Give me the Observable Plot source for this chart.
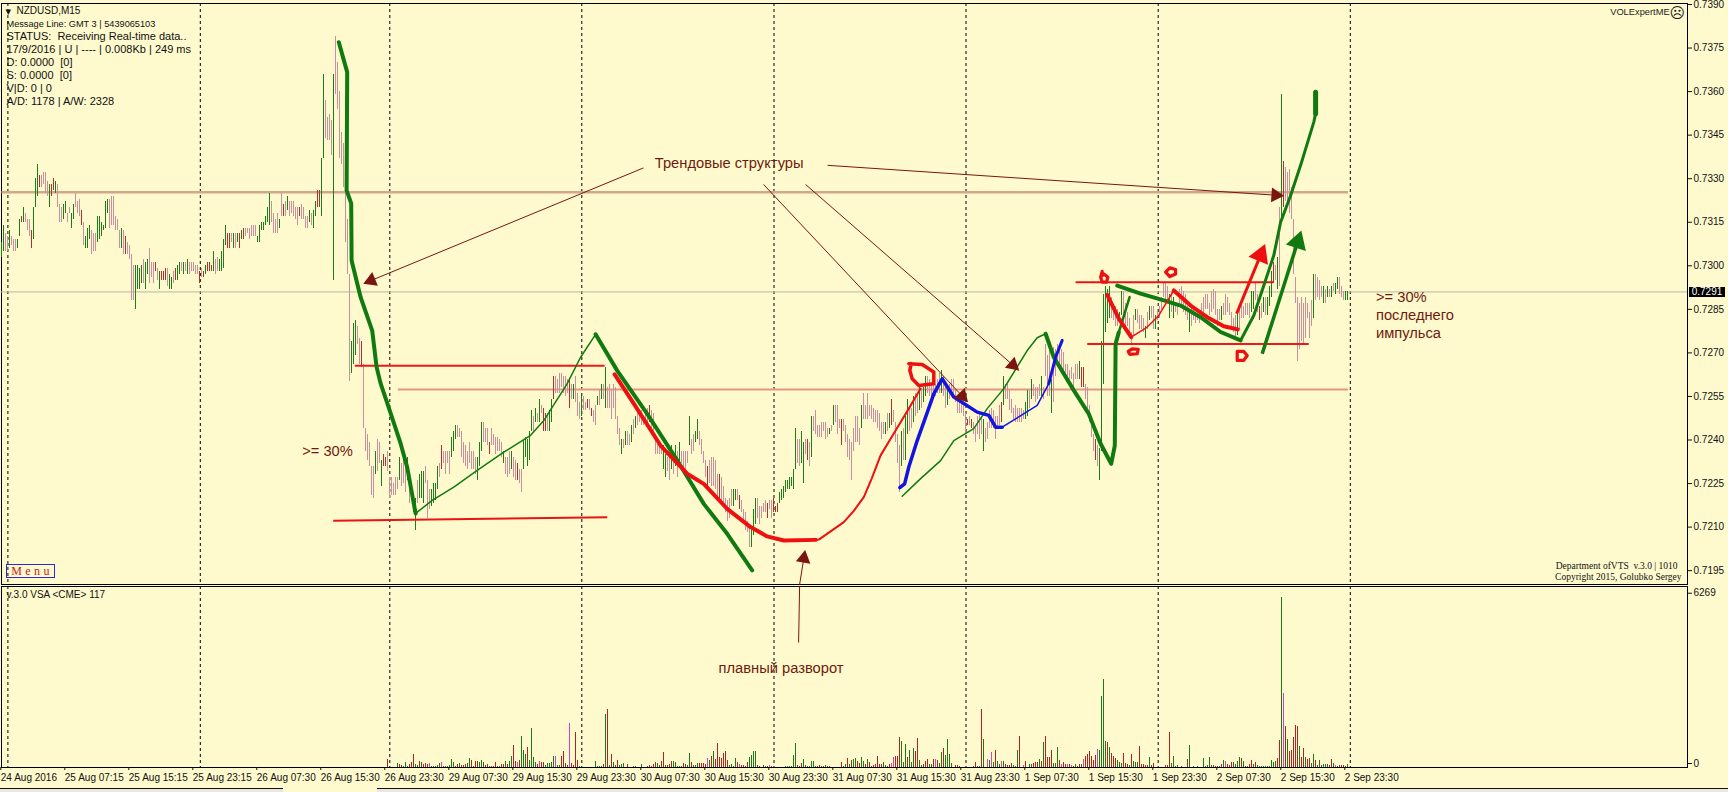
<!DOCTYPE html>
<html><head><meta charset="utf-8">
<script src="https://cdn.jsdelivr.net/npm/d3@7"></script>
<script src="https://cdn.jsdelivr.net/npm/@observablehq/plot@0.6"></script>
<style>
html,body{margin:0;padding:0;background:#FEFACD;}
#page{position:relative;width:1728px;height:792px;overflow:hidden;background:#FEFACD;}
#page svg{display:block;}
#foot{position:absolute;left:0;right:0;top:788px;height:4px;background:#e8e8e0;border-top:1px solid #111;}
#tab{position:absolute;left:283px;top:787px;width:94px;height:5px;background:#FEFACD;}
#tag{position:absolute;left:1689px;top:287px;width:36px;height:10px;background:#000;color:#fff;font:10px/10px "Liberation Sans";text-align:center;}
#menu{position:absolute;left:6px;top:564px;width:47px;height:12px;border:1px solid #2a2ad0;color:#c8202a;font:12px/12px "Liberation Serif";letter-spacing:3.4px;text-align:center;text-indent:3px;}
</style></head><body><div id="page"></div>
<script>
// price values are in pips (0.7291 = 7291); bar index = one M15 bar
const barHigh=[
7308,7314,7311,7310,7312,7310,7309,7309,7309,7316,
7317,7320,7318,7316,7316,7312,7320,7330,7335,7331,
7331,7332,7332,7329,7328,7328,7330,7329,7328,7321,
7320,7321,7322,7318,7320,7318,7321,7325,7322,7323,
7319,7315,7310,7313,7314,7312,7311,7311,7317,7317,
7315,7314,7322,7323,7323,7324,7324,7317,7316,7312,
7313,7312,7310,7308,7307,7304,7300,7300,7300,7299,
7300,7302,7301,7302,7306,7301,7301,7301,7299,7298,
7298,7298,7299,7299,7297,7296,7298,7299,7300,7301,
7301,7301,7301,7302,7301,7301,7301,7300,7300,7298,
7299,7298,7300,7301,7301,7300,7305,7302,7303,7302,
7305,7309,7314,7311,7311,7311,7311,7311,7311,7311,
7312,7313,7313,7313,7313,7314,7314,7314,7310,7314,
7315,7315,7317,7320,7325,7322,7318,7316,7318,7316,
7325,7321,7322,7324,7322,7322,7322,7320,7320,7320,
7321,7320,7317,7317,7319,7318,7319,7322,7326,7326,
7337,7366,7357,7351,7352,7350,7366,7379,7370,7360,
7346,7342,7329,7316,7297,7274,7280,7281,7279,7275,
7274,7266,7244,7242,7239,7231,7231,7236,7240,7239,
7233,7235,7234,7236,7227,7227,7225,7227,7227,7234,
7232,7233,7231,7234,7226,7224,7221,7220,7226,7228,
7229,7229,7231,7226,7223,7223,7225,7225,7231,7232,
7238,7236,7236,7236,7236,7241,7243,7245,7245,7244,
7243,7239,7238,7236,7239,7236,7236,7234,7234,7239,
7246,7246,7244,7244,7239,7244,7242,7241,7241,7240,
7239,7236,7234,7234,7236,7236,7234,7233,7232,7230,
7230,7240,7241,7240,7243,7250,7248,7251,7249,7254,
7252,7251,7249,7249,7250,7254,7262,7262,7261,7263,
7263,7262,7262,7261,7261,7259,7259,7262,7256,7253,
7255,7255,7253,7254,7254,7251,7250,7252,7255,7257,
7259,7259,7265,7258,7259,7257,7259,7258,7248,7244,
7240,7240,7243,7243,7242,7245,7247,7248,7249,7250,
7250,7248,7249,7251,7252,7250,7249,7242,7240,7238,
7238,7238,7235,7234,7234,7238,7234,7238,7236,7239,
7236,7236,7236,7236,7248,7240,7242,7243,7247,7243,
7240,7236,7233,7231,7233,7234,7234,7233,7228,7228,
7227,7224,7220,7219,7220,7223,7223,7223,7223,7221,
7219,7216,7215,7212,7211,7209,7216,7220,7220,7217,
7217,7218,7219,7218,7219,7219,7220,7217,7218,7222,
7223,7224,7226,7226,7227,7227,7230,7244,7240,7240,
7243,7239,7240,7240,7239,7248,7248,7250,7245,7245,
7246,7246,7246,7244,7244,7245,7252,7252,7252,7247,
7247,7247,7245,7242,7240,7239,7244,7248,7248,7244,
7252,7256,7252,7256,7252,7252,7251,7250,7250,7249,
7246,7246,7246,7249,7249,7254,7250,7246,7242,7238,
7243,7244,7248,7254,7251,7251,7255,7256,7256,7258,
7257,7258,7262,7262,7261,7259,7261,7259,7261,7263,
7264,7262,7259,7258,7259,7261,7261,7257,7255,7255,
7254,7253,7249,7247,7248,7247,7246,7244,7248,7249,
7248,7247,7244,7246,7250,7251,7250,7248,7248,7252,
7253,7262,7259,7259,7257,7254,7251,7252,7251,7251,
7251,7250,7253,7257,7257,7261,7259,7258,7258,7259,
7262,7258,7273,7269,7271,7261,7272,7271,7273,7272,
7271,7270,7266,7266,7264,7265,7263,7266,7266,7267,
7265,7265,7259,7258,7252,7247,7242,7240,7238,7237,
7274,7290,7293,7292,7293,7289,7286,7286,7285,7284,
7291,7291,7287,7284,7282,7277,7283,7285,7285,7283,
7283,7282,7279,7284,7286,7286,7286,7283,7284,7286,
7289,7294,7294,7293,7290,7291,7289,7287,7287,7292,
7293,7291,7290,7286,7285,7286,7285,7284,7283,7284,
7287,7289,7290,7290,7287,7291,7292,7291,7285,7285,
7286,7287,7290,7289,7287,7284,7282,7283,7284,7286,
7287,7286,7287,7287,7287,7291,7291,7294,7290,7286,
7287,7289,7289,7289,7293,7298,7301,7300,7303,7320,
7359,7336,7334,7332,7333,7327,7316,7296,7289,7287,
7289,7287,7289,7287,7284,7288,7297,7297,7296,7295,
7293,7293,7292,7293,7292,7293,7294,7294,7296,7296,
7293,7291,7291,7291];
const barLow=[
7303,7305,7305,7305,7306,7307,7305,7305,7306,7310,
7315,7315,7315,7312,7310,7306,7309,7320,7324,7327,
7327,7328,7325,7324,7320,7324,7326,7325,7320,7315,
7315,7316,7318,7315,7318,7313,7316,7320,7318,7317,
7314,7307,7306,7306,7309,7304,7305,7305,7308,7309,
7310,7312,7313,7318,7313,7314,7314,7312,7312,7306,
7306,7304,7304,7304,7302,7288,7288,7285,7292,7292,
7294,7294,7292,7297,7294,7296,7294,7298,7295,7292,
7295,7295,7295,7293,7292,7292,7294,7295,7295,7297,
7298,7297,7298,7297,7297,7298,7298,7297,7297,7294,
7296,7296,7297,7298,7298,7298,7298,7297,7298,7298,
7298,7299,7307,7306,7306,7308,7306,7306,7308,7306,
7309,7309,7310,7311,7309,7310,7310,7310,7308,7308,
7312,7312,7314,7315,7314,7315,7311,7311,7311,7313,
7317,7317,7317,7319,7317,7318,7317,7316,7314,7317,
7316,7316,7313,7313,7315,7314,7313,7317,7320,7320,
7317,7337,7344,7343,7343,7338,7295,7359,7354,7337,
7335,7327,7308,7297,7260,7263,7266,7269,7273,7266,
7265,7244,7236,7233,7231,7221,7220,7228,7229,7232,
7224,7231,7231,7229,7220,7221,7221,7221,7223,7226,
7224,7225,7222,7226,7218,7219,7215,7209,7218,7220,
7220,7218,7225,7213,7216,7217,7218,7219,7223,7227,
7230,7232,7228,7232,7228,7234,7236,7240,7241,7241,
7234,7232,7231,7230,7232,7230,7230,7228,7226,7231,
7236,7239,7239,7238,7235,7238,7238,7235,7236,7236,
7234,7232,7228,7227,7228,7230,7227,7226,7226,7225,
7222,7230,7234,7231,7233,7243,7243,7246,7246,7246,
7249,7243,7243,7243,7243,7246,7254,7256,7256,7256,
7258,7256,7255,7256,7251,7254,7254,7253,7248,7247,
7248,7250,7250,7251,7250,7248,7246,7245,7252,7252,
7254,7254,7251,7251,7251,7247,7251,7247,7242,7238,
7235,7237,7238,7238,7238,7239,7242,7244,7245,7246,
7245,7245,7246,7244,7246,7244,7242,7235,7235,7235,
7235,7230,7227,7229,7226,7230,7228,7231,7227,7232,
7232,7230,7229,7232,7238,7235,7236,7239,7240,7238,
7235,7232,7227,7224,7225,7224,7224,7223,7220,7220,
7219,7217,7215,7212,7213,7217,7217,7219,7219,7216,
7215,7212,7209,7208,7203,7203,7207,7211,7213,7211,
7213,7215,7215,7213,7216,7213,7215,7215,7215,7218,
7219,7220,7222,7223,7223,7224,7223,7230,7232,7231,
7232,7225,7235,7233,7231,7234,7243,7242,7241,7241,
7241,7243,7240,7241,7242,7243,7245,7246,7242,7244,
7238,7243,7239,7234,7233,7226,7236,7239,7239,7238,
7244,7247,7247,7247,7248,7247,7246,7246,7244,7243,
7240,7242,7242,7243,7244,7245,7246,7239,7232,7222,
7231,7233,7233,7242,7243,7244,7246,7248,7249,7250,
7251,7253,7255,7256,7255,7253,7254,7255,7256,7256,
7256,7255,7251,7252,7254,7255,7256,7253,7249,7249,
7249,7248,7242,7245,7245,7244,7242,7239,7242,7240,
7242,7236,7239,7240,7244,7244,7244,7240,7244,7245,
7246,7252,7254,7254,7250,7249,7247,7246,7246,7246,
7246,7247,7247,7248,7251,7254,7255,7253,7254,7255,
7255,7254,7262,7255,7255,7249,7253,7262,7265,7265,
7264,7263,7262,7261,7259,7261,7258,7261,7261,7261,
7258,7258,7254,7251,7246,7241,7236,7233,7231,7226,
7236,7259,7277,7280,7282,7282,7281,7279,7279,7281,
7283,7279,7278,7279,7276,7273,7276,7281,7280,7278,
7278,7277,7275,7278,7281,7282,7278,7278,7281,7282,
7285,7289,7288,7288,7282,7284,7282,7284,7283,7286,
7286,7284,7283,7281,7277,7279,7281,7280,7281,7280,
7282,7284,7285,7285,7283,7284,7285,7283,7279,7281,
7281,7283,7283,7284,7283,7279,7277,7275,7276,7278,
7282,7282,7283,7283,7282,7284,7285,7288,7284,7281,
7282,7284,7283,7283,7286,7289,7294,7295,7292,7293,
7316,7320,7322,7321,7318,7316,7297,7287,7267,7271,
7274,7273,7275,7282,7275,7279,7282,7288,7289,7288,
7289,7287,7287,7289,7289,7289,7291,7290,7292,7290,
7289,7288,7288,7288];
const barTone=[
"ggppgpppgg","rgppprgggr","ppppgrrgpp","pggppggppp","rpgggpppgg","ggggpppppp","gprppppggg","gpggppprpg",
"rrrpggprgg","pgpgpppppr","prgrrrgppg","gggrrpgpgr","grppppppgg","gggggppppg","prpgpppppr","ppppgpggrr",
"ggppppgppp","pppppgggpp","rppppppgpp","grrppppppg","pppgppggpg","ggpppggggp","rppppgggpp","ppppppppgg",
"gppprppppp","pgpppgpprp","pgggggpgpg","prrpggrppp","pppprpgppp","gpprprppgp","gpgppppppp","gpgppgpgpp",
"pppprppppp","pggppgpgpg","ppppgppggp","ppprpppppr","ppppppggpr","pppppgggpp","ppprpprrrg","ggggggggpp",
"ggprpgpppp","ppppgpgppp","rppppppppp","gppppppppp","ppgpgrpppp","gpggppgppg","pggppppppp","gppgpppppp",
"ppprprpppp","pgpppppppp","rgpppppppp","ppggpgpppp","gppppgpppp","pppppppppg","rrppppprpg","gggggppppg",
"gppppppgpp","ppgpgppgpp","ppppgpgppp","ppppgppppp","pppppppppp","gpppppppgp","pppppggppr","pgpgggrpgp",
"grpppppppp","ppppppgppp","pgpgpgpggp","ppgg"].join("");

const volAStart=193;
const volA=[294,0,0,0,0,147,98,74,25,184,25,98,172,479,110,61,221,184,98,147,123,160,37,37,37,74,147,184,37,37,37,61,294,196,49,98,160,74,74,98,147,331,245,49,209,209,196,258,172,61,123,25,37,37,184,25,37,110,110,221,123,221,405,810,221,196,258,1141,613,466,736,258,1423,368,184,98,221,184,184,61,147,147,184,405,405,61,61,405,589,147,74,1632,147,74,1288,258,37,0,0,0,0,0,0,0,221,37,37,37,98,1939,2135,61,479,196,74,245,74,98,147,12,98,12,12,25,25,12,12,123,12,12,37,61,37,98,196,147,61,221,540,61,61,98,221,221,184,25,37,25,147,110,61,515,196,61,61,147,147,147,147,98,319,245,405,589];
const volATone=["rgggggrrgg","grrrggrgrr","rpgggggprg","ggggrrgrrr","ggrgrrgggr","rggrrggrrg","rggrrprggg","rggggrprrg","ggggpggrrg","rprrrrgggg","ggggggggrg","rgrgrrgggg","rggggggggg","rrrrrggrrg","rrrgggggrr","ggrgggrrrr","pgrg"].join("");
const volBStart=357;
const volB=[307,883,368,331,515,589,258,61,98,49,331,172,98,74,61,37,184,368,442,589,589,61,25,12,74,25,37,74,25,0,0,12,0,12,12,25,25,25,25,442,883,61,37,147,294,61,37,25,221,221,37,37,61,37,37,61,25,49,12,12,12,12,12,184,37,98,331,98,258,307,331,221,147,368,221,110,294,184,37,61,98,405,98,98,184,61,49,98,147,368,405,405,1104,957,184,847,368,626,184,699,589,1067,258,61,98,221,294,98,98,294,294,245,147,552,699,442,1031,479,147,12,61,61,37,0,0,0,0,0,0,37,184,25,25,2135,1031,0,294,258,552,184,626,221,98,221,221,98,61,61,147,61,25,626,1141,0,61,221,0,98,98,147,184,184,294,221,920];
const volBTone=["rrrrrrrggr","grprrrrggg","grggrggprg","gggggggggg","grgrgrgggg","grrgggrggg","gggrggrgrg","grrggrgrgr","rrrrgggrpp","rrrgggrggg","rrggrrrggr","prggrggggg","rrrggggggg","rggrggpgpg","rggpgrrrrg","ggrgprgggr","rrgrg"].join("");
const volCStart=522;
const volC=[1141,368,368,626,147,147,736,258,98,172,98,98,98,61,37,110,37,110,110,294,405,479,589,405,258,442,663,613,2601,3239,957,920,736,515,405,331,258,184,147,515,147,98,74,479,221,184,184,773,98,98,61,61,368,61,147,12,0,0,0,0,61,61,1288,147,405,37,61,12,37,12,12,294,810,12,25,0,25,0,0,331,37,61,368,61,61,37,37,37,110,258,221,110,74,184,184,110,221,368,331,221,37,37,110,258,110,184,74,37,37,37,37,37,37,258,184,221,331,994,6269,2724,1509,1031,589,626,1104,1546,1509,773,368,699,368,294,331,147,479,258,61,258,74,110,110,110,74,294,147,61,25,61,61,61,25,110];
const volCTone=["rrrrgggrpr","rprprgrrgp","rrrrrrpggg","grgrrrgggr","rrgrgggrrr","rrgrrggggg","rrrggrggrg","grgggggggg","gggrgrrgrg","prrrrgggrg","rgrrgrgggg","ggggggrrgp","rgrrrrrgrr","grrggrggrg","ggrrgpgrrr","rg"].join("");

const priceTicks=[7390,7375,7360,7345,7330,7315,7300,7285,7270,7255,7240,7225,7210,7195];
const currentPrice=7291;
const timeTicks=d3.range(0,22).map(k=>k*32);
const timeLabels=["24 Aug 2016","25 Aug 07:15","25 Aug 15:15","25 Aug 23:15","26 Aug 07:30","26 Aug 15:30","26 Aug 23:30","29 Aug 07:30","29 Aug 15:30","29 Aug 23:30","30 Aug 07:30","30 Aug 15:30","30 Aug 23:30","31 Aug 07:30","31 Aug 15:30","31 Aug 23:30","1 Sep 07:30","1 Sep 15:30","1 Sep 23:30","2 Sep 07:30","2 Sep 15:30","2 Sep 23:30"];
const daySeparators=[3.05,99.25,194,290,386.1,482.1,578.2,674.25];
const volTicks=[0,6269];

const headerLines=["NZDUSD,M15","Message Line: GMT 3 | 5439065103","STATUS:  Receiving Real-time data..","17/9/2016 | U | ---- | 0.008Kb | 249 ms","D: 0.0000  [0]","S: 0.0000  [0]","V|D: 0 | 0","A/D: 1178 | A/W: 2328"];
const headerSizes=[10,9.2,11,11,11,11,11,11];
const headerOffsets=[7.7,20.7,33,46.3,59,72,85,98];
const headerIndents=[15,5,5,5,5,5,5,5];

const drop1X=[168.5,172.7,172.4,174.7,174.9,179.4,185.2,187.4,189.4,193.4,199.4,202.7,206.9];
const drop1Y=[7377,7366.7,7326,7321.5,7301.8,7289.2,7277.7,7265.1,7259.5,7251.3,7238.8,7230.6,7214.7];
const rise1X=[206.9,215.2,226,237.7,251,264.4,271,282.7,289.4,296.9];
const rise1Y=[7214.7,7219.2,7223.8,7229.5,7235.8,7241.6,7246.7,7259.4,7268.5,7276.4];
const drop2X=[296.9,307.7,322.7,337.7,351,362.7,375.2];
const drop2Y=[7276.4,7263.9,7249,7233,7218,7207.7,7195.1];
const curveX=[306.4,316,329.4,342.7,351,362.7,374.4,382.7,391,406.9];
const curveY=[7262.6,7252.5,7238.1,7228.4,7224.9,7216.3,7210,7206.8,7205.4,7205.6];
const curveUpX=[406.9,408.5,421,426,431,435,439.4,446.9,453.5,459.4];
const curveUpY=[7205.6,7205.7,7211.7,7215.6,7220.3,7226.8,7234.7,7243.3,7250.8,7257.7];
const circleX=[453.5,460.2,466,466,458.5,455.2,454,454.7];
const circleY=[7266.3,7266,7263.4,7259.4,7258.8,7261.1,7264,7266.3];
const blue1X=[449,451.4,453.5,457.7,461.9,466,470.2,476,487.7,493.5,496.9,500.2];
const blue1Y=[7223.6,7224.9,7230.7,7239.8,7247.9,7255.9,7261.1,7254.8,7249.6,7248.5,7244.4,7244.4];
const blue2X=[500.2,506.9,517.7,523.5];
const blue2Y=[7244.4,7247.3,7251.9,7259.4];
const blue3X=[523.5,526.9,530.2];
const blue3Y=[7259.4,7268.5,7274.3];
const rise2X=[450.2,459.4,469.4,476,486,492.7,501,512.7,517.7,521.9];
const rise2Y=[7220.6,7226.7,7232.9,7239.8,7243.9,7250.8,7257.7,7270.8,7275.2,7276.6];
const drop3X=[521.9,526,536,543.5,549.4,554.7,556.5,556.9,558.5];
const drop3Y=[7276.6,7268.5,7257.1,7249,7238.7,7231.8,7238.1,7273.1,7277.1];
const rise3X=[558.5,563.9];
const rise3Y=[7277.1,7289.2];
const redDownX=[552.7,558.5,564.7];
const redDownY=[7290,7281.8,7275.4];
const redThinX=[564.7,572.7,578.5,586];
const redThinY=[7275.4,7278.9,7282.9,7291.5];
const redFallX=[586,594.4,602.7,611,618];
const redFallY=[7291.5,7286.3,7282.3,7279.2,7278.1];
const green4X=[557.7,569.4,581,589.4,599.4,609.4,619.4];
const green4Y=[7293.2,7290.4,7288.1,7286.3,7282.3,7277.2,7274.3];
const green5X=[619.4,626,631,636,639.4,644.4,649.4,656,656.9];
const green5Y=[7274.3,7282.9,7293.2,7303.6,7315,7324.2,7334.6,7349.5,7352.4];
const green6X=[656.9,656.9];
const green6Y=[7352.4,7359.8];
const mark6X=[549.4,551,553,552.4,550.2,549.4,550.2];
const mark6Y=[7296.1,7297.2,7296.1,7294.4,7294.4,7296.1,7298.1];
const markOX=[581.9,584,586.9,586.9,584,581.9];
const markOY=[7297.8,7299.3,7298.7,7297.2,7296.3,7297.8];
const markEX=[563.2,565.2,568.2,567.7,564,563.2];
const markEY=[7270.5,7271.4,7271.2,7269.7,7269.5,7270.5];
const markDX=[617.7,621,622.7,621,617.7,617.7];
const markDY=[7270.5,7270.5,7269.1,7267.4,7267.4,7270.5];

const levels=[
 {x1:-0.15,x2:673.1,y1:7325.3,y2:7325.3,c:"#d3a68e",w:2.5},
 {x1:198,x2:673.1,y1:7257.4,y2:7257.4,c:"#e59585",w:2},
 {x1:176.5,x2:301.4,y1:7265.6,y2:7265.6,c:"#f01818",w:2},
 {x1:165.7,x2:302.7,y1:7212.2,y2:7213.4,c:"#e81414",w:2},
 {x1:536.9,x2:635.7,y1:7294.3,y2:7294.3,c:"#e81414",w:2},
 {x1:542.7,x2:653.5,y1:7273.1,y2:7273.1,c:"#f01818",w:2}];
const brownArrows=[
 {x1:320.8,y1:7333.7,x2:182.4,y2:7294.3},
 {x1:412.9,y1:7334.6,x2:639.4,y2:7324.2},
 {x1:380.9,y1:7328,x2:481.9,y2:7253.9},
 {x1:401.9,y1:7328,x2:507.4,y2:7264.7},
 {x1:398.9,y1:7190.2,x2:401.4,y2:7200.9}];
const thickArrows=[
 {x1:617.4,y1:7283.5,x2:630.7,y2:7305.9,c:"#ee1010",w:3},
 {x1:630.2,y1:7269.7,x2:649,y2:7310.5,c:"#107a10",w:3.5}];
const notes=[
 {t:"Трендовые структуры",x:326.5,y:7335.2},
 {t:">= 30%",x:150.2,y:7236.2},
 {t:">= 30%",x:687.1,y:7289.2},
 {t:"последнего",x:687.1,y:7282.9},
 {t:"импульса",x:687.1,y:7276.7}];

// arrowheads: a filled triangle turned along each arrow (2 px per bar, 2.9033 px per pip)
const PXX=2,PXY=2.9033;
const heads=(list,r)=>list.map(a=>{
 const dx=(a.x2-a.x1)*PXX,dy=(a.y2-a.y1)*PXY,L=Math.hypot(dx,dy),back=r*0.7;
 return {...a,r,hx:a.x2-dx/L*back/PXX,hy:a.y2-dy/L*back/PXY,rot:Math.atan2(dx,dy)*180/Math.PI};
});

const toneColor={g:"#1c7d1c",p:"#c78fa0",r:"#b03030"};
const volColor={g:"#1a7a1a",p:"#cf45c0",r:"#b22222"};
const bars=barHigh.map((h,i)=>({i,h,l:barLow[i],c:toneColor[barTone[i]]||toneColor.p}));
const vols=[[volA,volATone,volAStart],[volB,volBTone,volBStart],[volC,volCTone,volCStart]]
  .flatMap(([v,t,s])=>v.map((q,k)=>({i:s+k,v:q,c:volColor[t[k]]||volColor.r})));

const path=(xs,ys,stroke,strokeWidth)=>Plot.line(xs.map((x,k)=>({x,y:ys[k]})),{x:"x",y:"y",stroke,strokeWidth,strokeLinejoin:"round",strokeLinecap:"round"});
const GREEN="#107a10",RED="#ee1010",BLUE="#1414e0",BROWN="#7a1510",INK="#6f1a0f";
const baseStyle={fontFamily:"Liberation Sans",fontSize:"10px",background:"transparent",color:"#111"};
const xDomain=[-0.15,842.85];
const brownHeads=heads(brownArrows,7), thickHeads=heads(thickArrows,10);

const mainPanel=Plot.plot({
 width:1728,height:585,marginTop:3,marginBottom:1,marginLeft:1,marginRight:41,
 style:baseStyle,
 x:{domain:xDomain,axis:null},
 y:{domain:[7190.23,7390.34],axis:null},
 r:{type:"identity"},
 marks:[
  Plot.frame({stroke:"#000"}),
  Plot.ruleX(daySeparators,{stroke:"#000",strokeWidth:1,strokeDasharray:"3,3"}),
  Plot.ruleY([currentPrice],{stroke:"#b7b7a8",strokeWidth:1}),
  Plot.link(levels.slice(0,2),{x1:"x1",x2:"x2",y1:"y1",y2:"y2",stroke:"c",strokeWidth:"w"}),
  Plot.ruleX(bars,{x:"i",y1:"l",y2:"h",stroke:"c",strokeWidth:1,shapeRendering:"crispEdges"}),
  Plot.link(levels.slice(2),{x1:"x1",x2:"x2",y1:"y1",y2:"y2",stroke:"c",strokeWidth:"w"}),
  path(drop1X,drop1Y,GREEN,4),
  path(rise1X,rise1Y,GREEN,1.5),
  path(drop2X,drop2Y,GREEN,4),
  path(curveX,curveY,RED,4),
  path(curveUpX,curveUpY,RED,2),
  path(circleX,circleY,RED,3.5),
  path(rise2X,rise2Y,GREEN,1.5),
  path(drop3X,drop3Y,GREEN,4),
  path(rise3X,rise3Y,GREEN,2.5),
  path(blue1X,blue1Y,BLUE,3.5),
  path(blue2X,blue2Y,BLUE,1.5),
  path(blue3X,blue3Y,BLUE,3),
  path(green4X,green4Y,GREEN,4),
  path(green5X,green5Y,GREEN,3),
  path(green6X,green6Y,GREEN,5),
  path(redDownX,redDownY,RED,4),
  path(redThinX,redThinY,RED,1.5),
  path(redFallX,redFallY,RED,4),
  path(mark6X,mark6Y,RED,3.2),
  path(markOX,markOY,RED,3.2),
  path(markEX,markEY,RED,3.2),
  path(markDX,markDY,RED,3.2),
  Plot.link(brownHeads,{x1:"x1",y1:"y1",x2:"hx",y2:"hy",stroke:BROWN,strokeWidth:1}),
  Plot.dot(brownHeads,{x:"hx",y:"hy",r:"r",symbol:"triangle2",rotate:"rot",fill:BROWN,stroke:"none"}),
  Plot.link(thickHeads,{x1:"x1",y1:"y1",x2:"hx",y2:"hy",stroke:"c",strokeWidth:"w"}),
  Plot.dot(thickHeads,{x:"hx",y:"hy",r:"r",symbol:"triangle2",rotate:"rot",fill:"c",stroke:"none"}),
  Plot.text(notes,{x:"x",y:"y",text:"t",textAnchor:"start",fill:INK,fontSize:14.7}),
  Plot.text(["▾"],{frameAnchor:"top-left",dx:4,dy:7.7,lineAnchor:"middle",fill:"#111",fontSize:11,textAnchor:"start",fontFamily:"DejaVu Sans"}),
  ...headerLines.map((t,k)=>Plot.text([t],{frameAnchor:"top-left",dx:headerIndents[k],dy:headerOffsets[k],lineAnchor:"middle",fill:"#111",fontSize:headerSizes[k],textAnchor:"start"})),
  Plot.text(["VOLExpertME"],{x:[833.9],y:[7387.4],textAnchor:"end",fill:"#222",fontSize:9.3}),
  Plot.text(["☹"],{x:[837.7],y:[7387],fill:"#222",fontSize:15,fontFamily:"DejaVu Sans"}),
  Plot.text(["Department ofVTS  v.3.0 | 1010"],{x:[837.9],y:[7196.6],textAnchor:"end",fill:"#111",fontSize:9.5,fontFamily:"Liberation Serif"}),
  Plot.text(["Copyright 2015, Golubko Sergey"],{x:[839.9],y:[7192.7],textAnchor:"end",fill:"#111",fontSize:9.5,fontFamily:"Liberation Serif"}),
  Plot.axisY({anchor:"right",ticks:priceTicks,tickSize:4,tickPadding:2,tickFormat:d=>(d/10000).toFixed(4),label:null,fontSize:10,fill:"#111"})
 ]});

const volumePanel=Plot.plot({
 width:1728,height:207,marginTop:1,marginBottom:25,marginLeft:1,marginRight:41,
 style:baseStyle,
 x:{domain:xDomain,axis:null},
 y:{domain:[0,6664],axis:null},
 marks:[
  Plot.frame({stroke:"#000"}),
  Plot.ruleX(daySeparators,{stroke:"#000",strokeWidth:1,strokeDasharray:"3,3"}),
  Plot.ruleX(vols,{x:"i",y1:0,y2:"v",stroke:"c",strokeWidth:1,shapeRendering:"crispEdges"}),
  Plot.link([{x1:398.4,y1:4600,x2:398.9,y2:6664}],{x1:"x1",x2:"x2",y1:"y1",y2:"y2",stroke:BROWN,strokeWidth:1}),
  Plot.text(["плавный разворот"],{x:[358.4],y:[3654],textAnchor:"start",fill:INK,fontSize:14.7}),
  Plot.text(["v.3.0 VSA <CME> 117"],{frameAnchor:"top-left",dx:5,dy:4,fill:"#111",fontSize:10,textAnchor:"start"}),
  Plot.axisX({anchor:"bottom",ticks:timeTicks,tickFormat:d=>timeLabels[d/32],tickSize:3,tickPadding:3,textAnchor:"start",label:null,fontSize:10,fill:"#111",dx:-1}),
  Plot.axisY({anchor:"right",ticks:volTicks,tickSize:4,tickPadding:2,tickFormat:d=>String(d),label:null,fontSize:10,fill:"#111",dy:-4})
 ]});

const page=document.getElementById("page");
page.append(mainPanel,volumePanel);
page.insertAdjacentHTML("beforeend",'<div id="foot"></div><div id="tab"></div><div id="tag">0.7291</div><div id="menu">Menu</div>');
</script></body></html>
